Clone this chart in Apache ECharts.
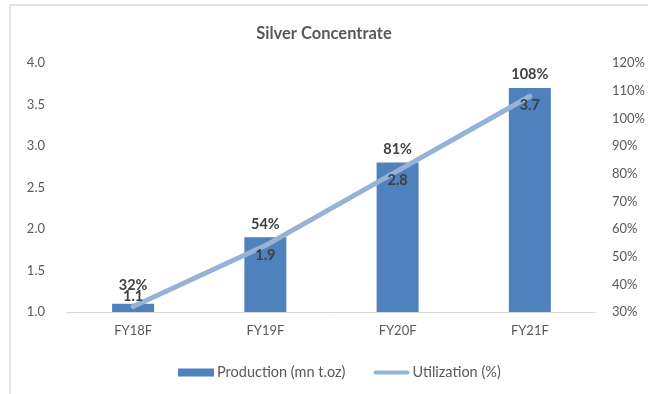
<!DOCTYPE html>
<html>
<head>
<meta charset="utf-8">
<script src="https://cdn.jsdelivr.net/npm/echarts@6/dist/echarts.min.js"></script>
<style>
  html, body { margin: 0; padding: 0; background: #fff; }
  #chart { width: 648px; height: 394px; }
</style>
</head>
<body>
<div id="chart"></div>
<script>
// Fiscal years shown on the category axis
const categories = ['FY18F', 'FY19F', 'FY20F', 'FY21F'];
// Silver concentrate production, million troy ounces
const production = [1.1, 1.9, 2.8, 3.7];
// Capacity utilization, percent
const utilization = [32, 54, 81, 108];

const FONT = 'Lato, "Open Sans", sans-serif';
const chart = echarts.init(document.getElementById('chart'), null, { renderer: 'canvas' });

const valueLabel = {
  color: '#404040', opacity: 1, fontSize: 14.5, fontWeight: 'bold', fontFamily: FONT
};

chart.setOption({
  animation: false,
  backgroundColor: '#ffffff',
  textStyle: { fontFamily: FONT },
  graphic: [{
    type: 'rect',
    shape: { x: 10, y: 5, width: 700, height: 420 },
    style: { fill: 'none', stroke: '#d9d9d9', lineWidth: 1.5 },
    silent: true, z: -10
  }],
  title: {
    text: 'Silver Concentrate',
    left: 'center', top: 20,
    textStyle: { fontFamily: FONT, fontSize: 16.5, fontWeight: 'bold', color: '#595959' }
  },
  legend: {
    left: 173, top: 360,
    itemWidth: 36, itemHeight: 8, itemGap: 28,
    textStyle: { fontFamily: FONT, fontSize: 14.5, color: '#595959', padding: [0, 0, 0, -2] },
    data: [
      { name: 'Production (mn t.oz)', icon: 'rect' },
      { name: 'Utilization (%)', icon: 'path://M2,2 L34,2 A2,2 0 0 1 34,6 L2,6 A2,2 0 0 1 2,2 Z' }
    ]
  },
  grid: { left: 67, right: 51, top: 63, bottom: 82, containLabel: false },
  xAxis: {
    type: 'category',
    data: categories,
    axisLine: { lineStyle: { color: '#d9d9d9', width: 1 } },
    axisTick: { show: false },
    axisLabel: { color: '#595959', fontSize: 13, fontFamily: FONT, margin: 12 }
  },
  yAxis: [{
    type: 'value', min: 1, max: 4, interval: 0.5,
    axisLine: { show: false }, axisTick: { show: false },
    splitLine: { show: false },
    axisLabel: { color: '#595959', fontSize: 13, fontFamily: FONT, margin: 22,
      formatter: v => v.toFixed(1) }
  }, {
    type: 'value', min: 30, max: 120, interval: 10,
    axisLine: { show: false }, axisTick: { show: false },
    splitLine: { show: false },
    axisLabel: { color: '#595959', fontSize: 13, fontFamily: FONT, margin: 16,
      formatter: v => v + '%' }
  }],
  series: [{
    name: 'Production (mn t.oz)',
    type: 'bar',
    yAxisIndex: 0,
    barWidth: 42,
    itemStyle: { color: '#4f81bd' },
    data: production
  }, {
    name: 'Utilization (%)',
    type: 'line',
    yAxisIndex: 1,
    symbol: 'circle',
    symbolSize: 0.1,
    showSymbol: true,
    lineStyle: { color: '#95b3d7', width: 5, cap: 'round' },
    itemStyle: { color: '#95b3d7' },
    label: Object.assign({
      show: true, position: 'top', distance: 14,
      formatter: p => p.value + '%'
    }, valueLabel),
    data: utilization
  }, {
    // production values written at the top of each bar, above the line
    name: 'Production value',
    type: 'scatter',
    yAxisIndex: 0,
    zlevel: 1,
    z: 10,
    symbolSize: 0.1,
    itemStyle: { color: '#4f81bd', opacity: 1 },
    silent: true,
    label: Object.assign({
      show: true, position: 'bottom', distance: 10,
      formatter: p => p.value.toFixed(1)
    }, valueLabel),
    data: production.map((v, i) => i === 0
      ? { value: v, label: { position: 'top', distance: 0 } }
      : v)
  }]
});
</script>
</body>
</html>
